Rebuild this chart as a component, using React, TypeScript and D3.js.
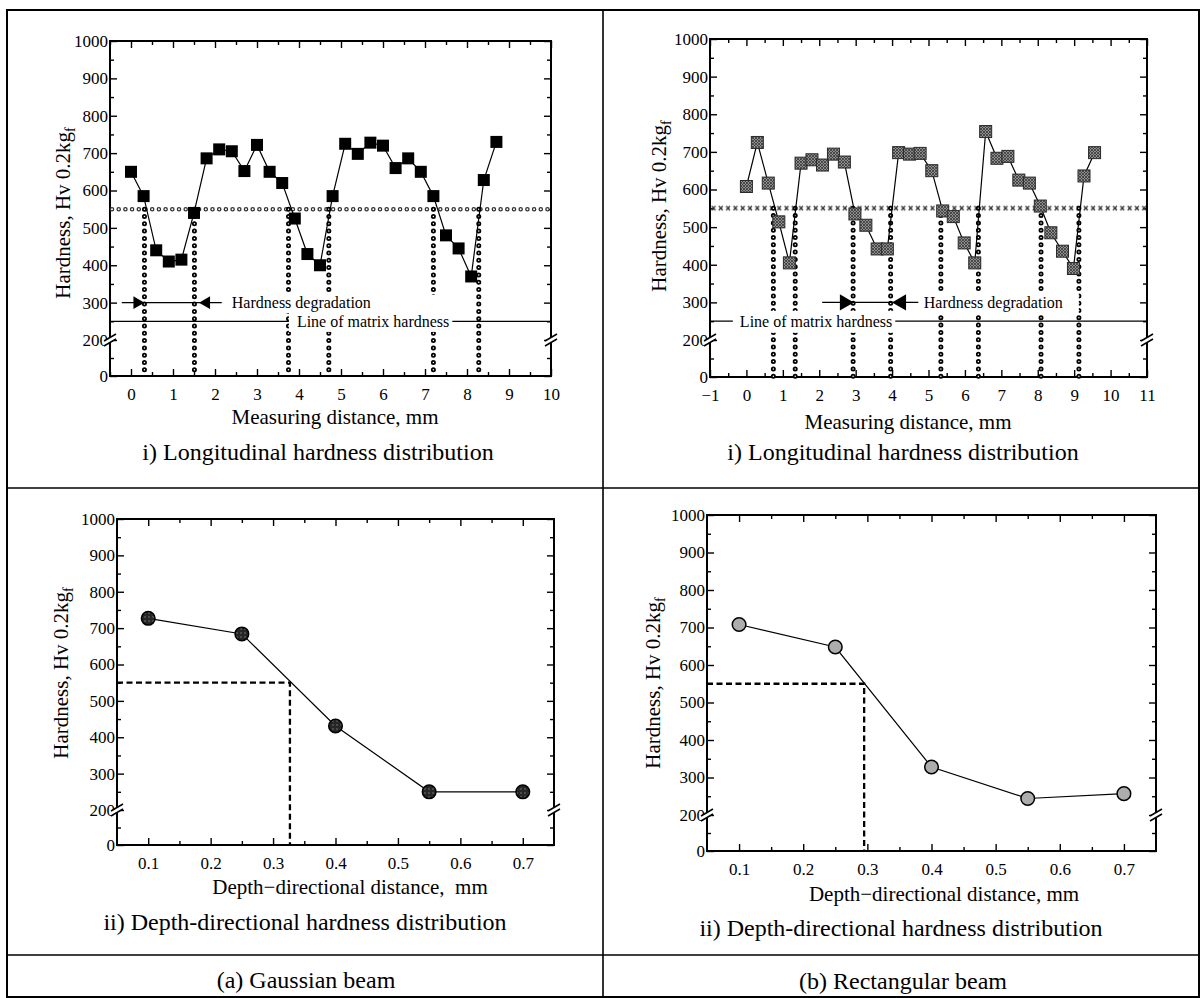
import React, { useEffect, useRef } from "react";
import * as d3 from "d3";

// (a) Gaussian beam, longitudinal hardness (black squares)
const gaussDist = [0, 0.3, 0.6, 0.9, 1.2, 1.5, 1.8, 2.1, 2.4, 2.7, 3.0, 3.3, 3.6, 3.9, 4.2, 4.5, 4.8, 5.1, 5.4, 5.7, 6.0, 6.3, 6.6, 6.9, 7.2, 7.5, 7.8, 8.1, 8.4, 8.7];
const gaussHv = [650, 585, 440, 410, 415, 540, 686, 710, 705, 652, 722, 650, 620, 525, 430, 400, 585, 725, 698, 728, 720, 660, 686, 650, 585, 480, 445, 370, 628, 730];
const gaussBounds = [0.32, 1.51, 3.75, 4.71, 7.2, 8.28];

// (b) Rectangular beam, longitudinal hardness (grey squares)
const rectDist = [0, 0.3, 0.6, 0.89, 1.18, 1.5, 1.8, 2.09, 2.39, 2.69, 2.98, 3.28, 3.59, 3.87, 4.18, 4.48, 4.77, 5.09, 5.39, 5.68, 5.98, 6.27, 6.57, 6.88, 7.18, 7.48, 7.77, 8.07, 8.36, 8.68, 8.98, 9.27, 9.56];
const rectHv = [608, 725, 617, 514, 405, 670, 679, 665, 694, 673, 535, 505, 442, 442, 698, 694, 696, 650, 543, 528, 458, 405, 754, 683, 688, 625, 617, 556, 485, 436, 390, 636, 698];
const rectBounds = [0.74, 1.34, 2.93, 3.96, 5.34, 6.37, 8.09, 9.13];

// depth-directional hardness
const depthDist = [0.1, 0.25, 0.4, 0.55, 0.7];
const gaussDepthHv = [727, 684, 431, 250, 250];
const rectDepthHv = [708, 648, 328, 244, 257];
const gaussCross = 0.327;
const rectCross = 0.295;

// reference levels
const CRITICAL_HV = 550;
const MATRIX_HV = 250;
const ARROW_HV = 300;

// ticks
const hvTicks = [0, 200, 300, 400, 500, 600, 700, 800, 900, 1000];
const hvMinor = [100, 250, 350, 450, 550, 650, 750, 850, 950];
const distTicksA = [0, 1, 2, 3, 4, 5, 6, 7, 8, 9, 10];
const distMinorA = [-0.5, 0.5, 1.5, 2.5, 3.5, 4.5, 5.5, 6.5, 7.5, 8.5, 9.5];
const distTicksB = [-1, 0, 1, 2, 3, 4, 5, 6, 7, 8, 9, 10, 11];
const distMinorB = [-0.5, 0.5, 1.5, 2.5, 3.5, 4.5, 5.5, 6.5, 7.5, 8.5, 9.5, 10.5];
const depthTicks = [0.1, 0.2, 0.3, 0.4, 0.5, 0.6, 0.7];
const depthMinor = [0.15, 0.25, 0.35, 0.45, 0.55, 0.65];

const SERIF = "'Liberation Serif', 'Times New Roman', serif";

type Frame = { left: number; right: number; top: number; brk: number; bottom: number };

function scales(f: Frame, xDomain: [number, number]) {
  const x = d3.scaleLinear().domain(xDomain).range([f.left, f.right]);
  const y = d3.scaleLinear().domain([0, 200, 1000]).range([f.bottom, f.brk, f.top]);
  return { x, y };
}

function styleAxis(a: any) {
  a.select(".domain").remove();
  a.attr("font-family", null).attr("font-size", null);
  a.selectAll("line").attr("stroke", "#000").attr("stroke-width", 1.4);
  a.selectAll("text").attr("font-family", SERIF).attr("font-size", 17).attr("fill", "#000");
}

function breakMark(g: any, bx: number, by: number) {
  g.append("polygon")
    .attr("points", `${bx - 6},${by + 1} ${bx + 6},${by - 6} ${bx + 6},${by - 1} ${bx - 6},${by + 6}`)
    .attr("fill", "#fff");
  [0, 5].forEach((o) =>
    g.append("line")
      .attr("x1", bx - 6).attr("y1", by + 1 + o)
      .attr("x2", bx + 6).attr("y2", by - 6 + o)
      .attr("stroke", "#000").attr("stroke-width", 1.5)
  );
}

function drawAxes(g: any, f: Frame, x: any, y: any, xMajor: number[], xMinor: number[], fmt: (d: any) => string) {
  const none = () => "";
  g.append("g").attr("transform", `translate(0,${f.bottom})`)
    .call(d3.axisBottom(x).tickValues(xMajor).tickSize(-7).tickPadding(12).tickFormat(fmt)).call(styleAxis);
  g.append("g").attr("transform", `translate(0,${f.bottom})`)
    .call(d3.axisBottom(x).tickValues(xMinor).tickSize(-4).tickFormat(none)).call(styleAxis);
  g.append("g").attr("transform", `translate(0,${f.top})`)
    .call(d3.axisTop(x).tickValues(xMajor).tickSize(-7).tickFormat(none)).call(styleAxis);
  g.append("g").attr("transform", `translate(0,${f.top})`)
    .call(d3.axisTop(x).tickValues(xMinor).tickSize(-4).tickFormat(none)).call(styleAxis);
  g.append("g").attr("transform", `translate(${f.left},0)`)
    .call(d3.axisLeft(y).tickValues(hvTicks).tickSize(-7).tickPadding(2).tickFormat(d3.format("d"))).call(styleAxis);
  g.append("g").attr("transform", `translate(${f.left},0)`)
    .call(d3.axisLeft(y).tickValues(hvMinor).tickSize(-4).tickFormat(none)).call(styleAxis);
  g.append("g").attr("transform", `translate(${f.right},0)`)
    .call(d3.axisRight(y).tickValues(hvTicks).tickSize(-7).tickFormat(none)).call(styleAxis);
  g.append("g").attr("transform", `translate(${f.right},0)`)
    .call(d3.axisRight(y).tickValues(hvMinor).tickSize(-4).tickFormat(none)).call(styleAxis);

  g.append("rect")
    .attr("x", f.left).attr("y", f.top)
    .attr("width", f.right - f.left).attr("height", f.bottom - f.top)
    .attr("fill", "none").attr("stroke", "#000").attr("stroke-width", 2);

  breakMark(g, f.left, y(200));
  breakMark(g, f.right, y(200));
}

// dotted line made of small rings
function ringLine(g: any, x1: number, y1: number, x2: number, y2: number, gap: number, outer = 5, inner = 1.5, ink = "#000") {
  g.append("line").attr("x1", x1).attr("y1", y1).attr("x2", x2).attr("y2", y2)
    .attr("stroke", ink).attr("stroke-width", outer).attr("stroke-linecap", "round")
    .attr("stroke-dasharray", `0 ${gap}`);
  g.append("line").attr("x1", x1).attr("y1", y1).attr("x2", x2).attr("y2", y2)
    .attr("stroke", "#fff").attr("stroke-width", inner).attr("stroke-linecap", "round")
    .attr("stroke-dasharray", `0 ${gap}`);
}

function textLabel(bg: any, fg: any, text: string, tx: number, ty: number, pads: number[]) {
  const t = fg.append("text").attr("x", tx).attr("y", ty).attr("dy", "0.35em")
    .attr("font-family", SERIF).attr("font-size", 16).attr("fill", "#000").text(text);
  const b = (t.node() as SVGTextElement).getBBox();
  bg.append("rect")
    .attr("x", b.x - pads[0]).attr("y", b.y - pads[2])
    .attr("width", b.width + pads[0] + pads[1]).attr("height", b.height + pads[2] + pads[3])
    .attr("fill", "#fff");
}

function arrowPair(g: any, x: any, yv: number, a: { from: number; to: number; tipR: number; tipL: number; size: number }) {
  g.append("line").attr("x1", x(a.from)).attr("x2", x(a.to)).attr("y1", yv).attr("y2", yv)
    .attr("stroke", "#000").attr("stroke-width", 1.3);
  const w = a.size, h = a.size * 1.15;
  const r = x(a.tipR), l = x(a.tipL);
  g.append("polygon").attr("points", `${r},${yv} ${r - w},${yv - h / 2} ${r - w},${yv + h / 2}`).attr("fill", "#000");
  g.append("polygon").attr("points", `${l},${yv} ${l + w},${yv - h / 2} ${l + w},${yv + h / 2}`).attr("fill", "#000");
}

function centerText(g: any, text: string, cx: number, by: number, size: number) {
  g.append("text").attr("x", cx).attr("y", by).attr("text-anchor", "middle")
    .attr("font-family", SERIF).attr("font-size", size).attr("fill", "#000")
    .style("white-space", "pre").text(text);
}

function yTitle(g: any, cx: number, cy: number) {
  const t = g.append("text").attr("transform", `translate(${cx},${cy}) rotate(-90)`)
    .attr("text-anchor", "middle").attr("dy", "0.35em")
    .attr("font-family", SERIF).attr("font-size", 21).attr("fill", "#000");
  t.append("tspan").text("Hardness, Hv 0.2kg");
  t.append("tspan").attr("font-size", 14).attr("dy", "0.35em").text("f");
}

export default function App() {
  const svgRef = useRef<SVGSVGElement>(null);

  useEffect(() => {
    const svg = d3.select(svgRef.current);
    svg.selectAll("*").remove();

    const defs = svg.append("defs");
    const sq = defs.append("pattern").attr("id", "sqTex").attr("patternUnits", "userSpaceOnUse")
      .attr("width", 3).attr("height", 3);
    sq.append("rect").attr("width", 3).attr("height", 3).attr("fill", "#8e8e8e");
    sq.append("path").attr("d", "M0,0L3,3M3,0L0,3").attr("stroke", "#383838").attr("stroke-width", 0.8);

    const dk = defs.append("pattern").attr("id", "dkTex").attr("patternUnits", "userSpaceOnUse")
      .attr("width", 4).attr("height", 4);
    dk.append("rect").attr("width", 4).attr("height", 4).attr("fill", "#262626");
    dk.append("circle").attr("cx", 1).attr("cy", 1).attr("r", 0.8).attr("fill", "#7a7a7a");

    // table grid
    const grid = svg.append("g").attr("stroke", "#000").attr("fill", "none");
    grid.append("rect").attr("x", 7).attr("y", 10).attr("width", 1192).attr("height", 987).attr("stroke-width", 2);
    grid.append("line").attr("x1", 603).attr("x2", 603).attr("y1", 10).attr("y2", 997).attr("stroke-width", 1.6);
    grid.append("line").attr("x1", 7).attr("x2", 1199).attr("y1", 488).attr("y2", 488).attr("stroke-width", 1.6);
    grid.append("line").attr("x1", 7).attr("x2", 1199).attr("y1", 955).attr("y2", 955).attr("stroke-width", 1.6);

    // ---------- longitudinal panels ----------
    const longPanel = (
      f: Frame, xDomain: [number, number], xMajor: number[], xMinor: number[],
      dist: number[], hv: number[], bounds: number[], boundLow: number,
      arrow: any, degrade: { at: number; pads: number[] }, matrix: { at: number; pads: number[] },
      crossMarks: boolean, filled: boolean
    ) => {
      const { x, y } = scales(f, xDomain);
      const g = svg.append("g");
      const axesL = g.append("g");
      const refL = g.append("g");
      const bgL = g.append("g");
      const annL = g.append("g");
      const dataL = g.append("g");

      drawAxes(axesL, f, x, y, xMajor, xMinor, d3.format("d"));

      // critical hardness line (550 Hv)
      if (crossMarks) {
        const pid = "xmark" + f.left;
        const pat = defs.append("pattern").attr("id", pid).attr("patternUnits", "userSpaceOnUse")
          .attr("x", f.left).attr("y", y(CRITICAL_HV) - 4).attr("width", 7.3).attr("height", 8);
        pat.append("path").attr("d", "M1.6,1.8L5.4,6M5.4,1.8L1.6,6").attr("stroke", "#333").attr("stroke-width", 1.3);
        refL.append("rect").attr("x", f.left + 1).attr("y", y(CRITICAL_HV) - 4)
          .attr("width", f.right - f.left - 2).attr("height", 8).attr("fill", `url(#${pid})`);
      } else {
        ringLine(refL, f.left + 2, y(CRITICAL_HV), f.right - 2, y(CRITICAL_HV), 6.7, 4.6, 2.0, "#333");
      }

      // degradation boundaries
      bounds.forEach((b) => ringLine(refL, x(b), y(CRITICAL_HV), x(b), y(boundLow), 7.3));

      // matrix hardness line
      refL.append("line").attr("x1", f.left).attr("x2", f.right)
        .attr("y1", y(MATRIX_HV)).attr("y2", y(MATRIX_HV))
        .attr("stroke", "#000").attr("stroke-width", 1.2);

      textLabel(bgL, annL, "Hardness degradation", x(degrade.at), y(ARROW_HV), degrade.pads);
      textLabel(bgL, annL, "Line of matrix hardness", x(matrix.at), y(MATRIX_HV), matrix.pads);
      arrowPair(annL, x, y(ARROW_HV), arrow);

      const pts = dist.map((d, i) => [d, hv[i]] as [number, number]);
      dataL.append("path").datum(pts)
        .attr("d", d3.line().x((d) => x(d[0])).y((d) => y(d[1])))
        .attr("fill", "none").attr("stroke", "#000").attr("stroke-width", 1.2);
      const s = 12;
      dataL.selectAll("rect.pt").data(pts).join("rect").attr("class", "pt")
        .attr("x", (d) => x(d[0]) - s / 2).attr("y", (d) => y(d[1]) - s / 2)
        .attr("width", s).attr("height", s)
        .attr("fill", filled ? "#000" : "url(#sqTex)")
        .attr("stroke", filled ? "#000" : "#2a2a2a").attr("stroke-width", filled ? 0 : 1);
    };

    longPanel(
      { left: 110, right: 551, top: 41, brk: 340, bottom: 376 }, [-0.5, 10], distTicksA, distMinorA,
      gaussDist, gaussHv, gaussBounds, 15,
      { from: -0.22, to: 2.16, tipR: 0.32, tipL: 1.62, size: 11 },
      { at: 2.4, pads: [6, 4, 2, 1] }, { at: 3.95, pads: [8, 3, 18, 2] },
      false, true
    );
    longPanel(
      { left: 710, right: 1147, top: 39, brk: 340, bottom: 377 }, [-1, 11], distTicksB, distMinorB,
      rectDist, rectHv, rectBounds, 0,
      { from: 2.08, to: 4.72, tipR: 2.95, tipL: 4.0, size: 14 },
      { at: 4.87, pads: [7, 16, 3, 2] }, { at: -0.18, pads: [7, 3, 2, 3] },
      true, false
    );

    // ---------- depth panels ----------
    const depthPanel = (f: Frame, hv: number[], cross: number, fill: string) => {
      const { x, y } = scales(f, [0.05, 0.75]);
      const g = svg.append("g");
      drawAxes(g, f, x, y, depthTicks, depthMinor, d3.format(".1f"));

      const guide: [number, number][] = [[0.05, CRITICAL_HV], [cross, CRITICAL_HV], [cross, 0]];
      g.append("path").datum(guide)
        .attr("d", d3.line().x((d) => x(d[0])).y((d) => y(d[1])))
        .attr("fill", "none").attr("stroke", "#000").attr("stroke-width", 2.3)
        .attr("stroke-dasharray", "6 3.5");

      const pts = depthDist.map((d, i) => [d, hv[i]] as [number, number]);
      g.append("path").datum(pts)
        .attr("d", d3.line().x((d) => x(d[0])).y((d) => y(d[1])))
        .attr("fill", "none").attr("stroke", "#000").attr("stroke-width", 1.2);
      g.selectAll("circle.pt").data(pts).join("circle").attr("class", "pt")
        .attr("cx", (d) => x(d[0])).attr("cy", (d) => y(d[1])).attr("r", 6.8)
        .attr("fill", fill).attr("stroke", "#000").attr("stroke-width", 1.5);
    };

    depthPanel({ left: 117, right: 554, top: 519, brk: 810, bottom: 845 }, gaussDepthHv, gaussCross, "url(#dkTex)");
    depthPanel({ left: 707, right: 1156, top: 515, brk: 815, bottom: 851 }, rectDepthHv, rectCross, "#adadad");

    // ---------- titles ----------
    const t = svg.append("g");
    yTitle(t, 63, 213);
    yTitle(t, 659, 206);
    yTitle(t, 61, 673);
    yTitle(t, 653, 683);

    centerText(t, "Measuring distance, mm", 335, 424, 21);
    centerText(t, "Measuring distance, mm", 908, 429, 21);
    centerText(t, "i) Longitudinal hardness distribution", 318, 460, 24);
    centerText(t, "i) Longitudinal hardness distribution", 903, 460, 24);

    centerText(t, "Depth\u2212directional distance,  mm", 350, 894, 21);
    centerText(t, "Depth\u2212directional distance, mm", 944, 901, 21);
    centerText(t, "ii) Depth-directional hardness distribution", 305, 930, 24);
    centerText(t, "ii) Depth-directional hardness distribution", 901, 936, 24);

    centerText(t, "(a) Gaussian beam", 306, 988, 24);
    centerText(t, "(b) Rectangular beam", 903, 989, 24);
  }, []);

  return (
    <svg
      ref={svgRef}
      width={1202}
      height={998}
      style={{ position: "absolute", left: 0, top: 0, background: "#fff" }}
    />
  );
}
